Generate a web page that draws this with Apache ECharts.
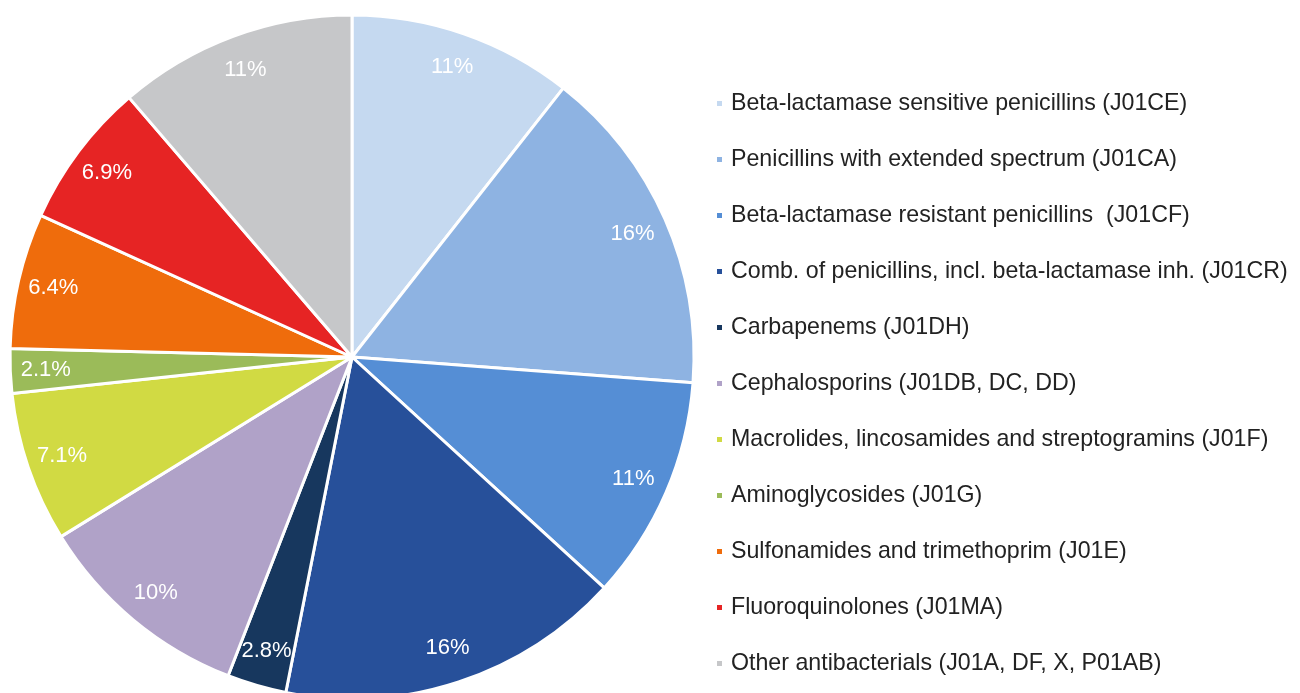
<!DOCTYPE html>
<html>
<head>
<meta charset="utf-8">
<script src="https://cdn.jsdelivr.net/npm/echarts@6/dist/echarts.min.js"></script>
<style>
  html, body { margin: 0; padding: 0; background: #fff; }
  #chart { width: 1300px; height: 693px; }
</style>
</head>
<body>
<div id="chart"></div>
<script>
// Antibacterial groups and their share of total use (%)
const categories = [
  'Beta-lactamase sensitive penicillins (J01CE)',
  'Penicillins with extended spectrum (J01CA)',
  'Beta-lactamase resistant penicillins  (J01CF)',
  'Comb. of penicillins, incl. beta-lactamase inh. (J01CR)',
  'Carbapenems (J01DH)',
  'Cephalosporins (J01DB, DC, DD)',
  'Macrolides, lincosamides and streptogramins (J01F)',
  'Aminoglycosides (J01G)',
  'Sulfonamides and trimethoprim (J01E)',
  'Fluoroquinolones (J01MA)',
  'Other antibacterials (J01A, DF, X, P01AB)'
];
const shares = [10.6, 15.6, 10.6, 16.3, 2.8, 10.3, 7.1, 2.1, 6.4, 6.9, 11.3];
const colors = [
  '#C5D9F0', '#8EB3E2', '#558ED5', '#27509A', '#17375E',
  '#B0A2C8', '#D1DA43', '#9BBB59', '#EF6C0C', '#E62424', '#C6C7C9'
];

const FONT = '"Liberation Sans", Arial, sans-serif';
const center = [352, 357];
const R = 342;

// Percentages shown with two significant digits (11%, 2.8%, ...)
const pctText = v => Number(v).toPrecision(2) + '%';

const sliceData = categories.map((name, i) => ({
  name, value: shares[i], itemStyle: { color: colors[i] }
}));

const chart = echarts.init(document.getElementById('chart'), null, { renderer: 'canvas' });
chart.setOption({
  animation: false,
  backgroundColor: '#ffffff',
  legend: {
    orient: 'vertical',
    left: 710,
    top: 87,
    itemWidth: 7,
    itemHeight: 7,
    itemGap: 33,
    icon: 'rect',
    selectedMode: false,
    textStyle: {
      fontFamily: FONT, fontSize: 23.2, color: '#222222',
      lineHeight: 23, padding: [0, 0, 0, 3]
    },
    data: categories.map((name, i) => ({ name, itemStyle: { color: colors[i] } }))
  },
  series: [
    {
      type: 'pie',
      center: center,
      radius: [0, R],
      startAngle: 90,
      clockwise: true,
      silent: true,
      label: { show: false },
      labelLine: { show: false },
      itemStyle: { borderColor: '#ffffff', borderWidth: 3 },
      data: sliceData
    },
    {
      // transparent ring: its mid-radius puts the percentage labels near the rim
      type: 'pie',
      center: center,
      radius: [R * 0.775, R],
      startAngle: 90,
      clockwise: true,
      silent: true,
      legendHoverLink: false,
      itemStyle: { color: 'rgba(0,0,0,0)', borderWidth: 0 },
      label: {
        show: true,
        position: 'inside',
        color: '#ffffff',
        fontFamily: FONT,
        fontSize: 22,
        formatter: p => pctText(p.value)
      },
      labelLine: { show: false },
      data: shares.slice()
    }
  ]
});
</script>
</body>
</html>
